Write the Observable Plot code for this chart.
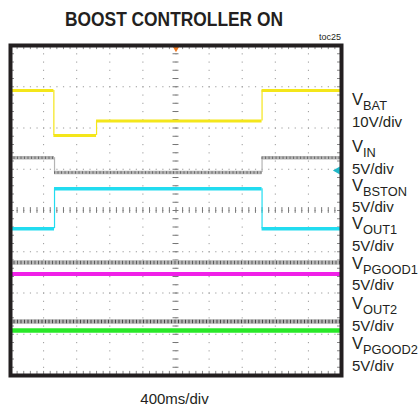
<!DOCTYPE html>
<html><head><meta charset="utf-8">
<script src="https://cdn.jsdelivr.net/npm/d3@7"></script>
<script src="https://cdn.jsdelivr.net/npm/@observablehq/plot@0.6"></script>
<style>body{margin:0;background:#fff}svg{display:block}</style>
</head><body><div id="chart"></div>
<script>
// Scope traces, in divisions (x: 0..10 time div, y: 0..8 vertical div)
const vbatTimes = [1.31, 2.60, 7.60];
const vbatLevels = [6.91, 5.82, 6.17, 6.91];
const vinTimes = [1.33, 7.60];
const vinLevels = [5.28, 4.92, 5.28];
const vbstonTimes = [1.33, 7.60];
const vbstonLevels = [3.56, 4.53, 3.56];
const vout1Levels = [2.74];
const vpgood1Levels = [2.46];
const vout2Levels = [1.31];
const vpgood2Levels = [1.09];
const labelNames = ["BAT","IN","BSTON","OUT1","PGOOD1","OUT2","PGOOD2"];
const labelScales = ["10V/div","5V/div","5V/div","5V/div","5V/div","5V/div","5V/div"];
const labelRows = [6.54, 5.40, 4.47, 3.53, 2.58, 1.60, 0.63];
const title = "BOOST CONTROLLER ON";
const xLabel = "400ms/div";
const figId = "toc25";
const triggerMarker = [{x: 5, y: 8}];
const groundMarker = [{x: 9.88, y: 4.97}];

function steps(times, levels) {
  const edges = [0, ...times, 10];
  const horiz = levels.map((l, i) => ({x1: edges[i], x2: edges[i + 1], y: l}));
  const vert = times.map((t, i) => ({x: t, y1: levels[i], y2: levels[i + 1]}));
  return {horiz, vert};
}
const vbat = steps(vbatTimes, vbatLevels);
const vin = steps(vinTimes, vinLevels);
const vbston = steps(vbstonTimes, vbstonLevels);
const vout1 = steps([], vout1Levels);
const vpgood1 = steps([], vpgood1Levels);
const vout2 = steps([], vout2Levels);
const vpgood2 = steps([], vpgood2Levels);

function traceMarks(s, color, w, texture) {
  const m = [
    Plot.ruleY(s.horiz, {x1: "x1", x2: "x2", y: "y", stroke: color, strokeWidth: w}),
    Plot.ruleX(s.vert, {x: "x", y1: "y1", y2: "y2", stroke: color, strokeWidth: 1.2})
  ];
  if (texture) m.push(Plot.ruleY(s.horiz, {x1: "x1", x2: "x2", y: "y", stroke: texture, strokeWidth: w - 1, strokeDasharray: "1 2.5"}));
  return m;
}

const minorX = d3.range(0, 10.001, 0.2);
const minorY = d3.range(0, 8.001, 0.2);
const grid = "#9a9a9a";

const plot = Plot.plot({
  width: 419, height: 412,
  marginLeft: 10, marginRight: 78, marginTop: 45, marginBottom: 37,
  x: {domain: [0, 10], axis: null},
  y: {domain: [0, 8], axis: null},
  style: {background: "#fff"},
  marks: [
    Plot.ruleX(d3.range(1, 10), {stroke: grid, strokeDasharray: "1.2 7.05"}),
    Plot.ruleY(d3.range(1, 8), {stroke: grid, strokeDasharray: "1.2 5.42"}),
    Plot.ruleX(minorX, {y1: 3.93, y2: 4.07, stroke: "#777"}),
    Plot.ruleY(minorY, {x1: 4.91, x2: 5.09, stroke: "#777"}),
    Plot.ruleX(minorX, {y1: 8, y2: 7.9, stroke: "#888"}),
    Plot.ruleX(minorX, {y1: 0, y2: 0.1, stroke: "#888"}),
    Plot.ruleY(minorY, {x1: 0, x2: 0.12, stroke: "#888"}),
    Plot.ruleY(minorY, {x1: 10, x2: 9.88, stroke: "#888"}),
    ...traceMarks(vout1, "#b8b8b8", 4.5, "#5a5a5a"),
    ...traceMarks(vout2, "#b0b0b0", 4.5, "#474747"),
    ...traceMarks(vin, "#b4b4b4", 3.5, "#6a6a6a"),
    ...traceMarks(vbat, "#f4e61a", 3),
    ...traceMarks(vbston, "#22dcf0", 3.5),
    ...traceMarks(vpgood1, "#f020e8", 4),
    ...traceMarks(vpgood2, "#28e828", 4.5),
    Plot.dot(triggerMarker, {x: "x", y: "y", symbol: "triangle", rotate: 180, r: 3, fill: "#f07820", dy: 2}),
    Plot.dot(groundMarker, {x: "x", y: "y", symbol: "triangle", rotate: -90, r: 3, fill: "#20b8c8"}),
    Plot.frame({stroke: "#231f20", strokeWidth: 4})
  ]
});

const svg = d3.select(plot);
const sx = plot.scale("x"), sy = plot.scale("y");
const font = "'Liberation Sans', Arial, sans-serif";
svg.append("text").attr("x", sx.apply(5) - 1.5).attr("y", 26).attr("text-anchor", "middle")
  .attr("font-family", font).attr("textLength", 218).attr("lengthAdjust", "spacingAndGlyphs")
  .attr("font-weight", "bold").attr("font-size", 20).attr("fill", "#231f20").text(title);
svg.append("text").attr("x", sx.apply(10)).attr("y", 40).attr("text-anchor", "end")
  .attr("font-family", font).attr("font-size", 9).attr("fill", "#231f20").text(figId);
svg.append("text").attr("x", sx.apply(5) - 1).attr("y", 404).attr("text-anchor", "middle")
  .attr("font-family", font).attr("font-size", 15).attr("fill", "#231f20").text(xLabel);
labelNames.forEach((n, i) => {
  const yb = sy.apply(labelRows[i]);
  const t = svg.append("text").attr("x", sx.apply(10) + 11).attr("y", yb)
    .attr("text-anchor", "start").attr("font-family", font).attr("fill", "#231f20");
  t.append("tspan").attr("font-size", 16.5).text("V");
  t.append("tspan").attr("font-size", 12.8).attr("dy", 5).text(n);
  svg.append("text").attr("x", sx.apply(10) + 11).attr("y", yb + 21.5)
    .attr("text-anchor", "start").attr("font-family", font).attr("font-size", 15)
    .attr("fill", "#231f20").text(labelScales[i]);
});

document.getElementById("chart").append(plot);
</script>
</body></html>
